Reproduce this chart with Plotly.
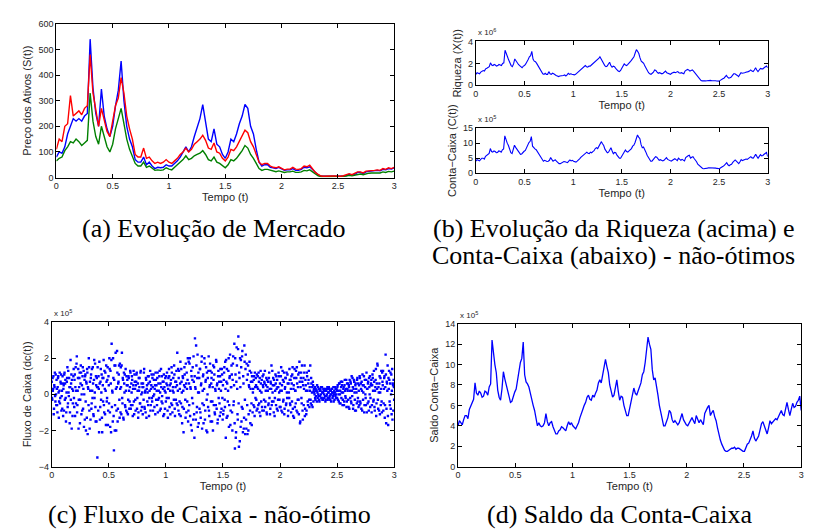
import numpy as np
import plotly.graph_objects as go

# ---------------- data ----------------
price_blue = [80, 100, 95, 120, 170, 200, 230, 220, 230, 220, 240, 250, 540, 350, 250, 200, 345, 240, 190, 160,
              200, 280, 340, 455, 300, 200, 150, 120, 70, 60, 60, 80, 50, 60, 45, 35, 40, 38, 40, 50,
              45, 45, 55, 65, 80, 100, 120, 100, 120, 160, 200, 230, 285, 220, 150, 140, 190, 130, 120, 90,
              75, 100, 150, 140, 170, 210, 240, 285, 270, 200, 170, 110, 60, 45, 50, 50, 40, 38, 35, 40,
              33, 28, 30, 30, 35, 28, 28, 32, 40, 38, 42, 30, 18, 10, 5, 4, 5, 5, 5, 5,
              4, 4, 6, 8, 12, 9, 12, 20, 20, 15, 22, 24, 25, 25, 28, 26, 32, 30, 35, 33, 38]
price_red = [110, 150, 140, 200, 210, 320, 240, 250, 260, 245, 270, 280, 480, 330, 260, 200, 270, 230, 180, 160,
             220, 280, 310, 390, 330, 240, 190, 150, 90, 80, 80, 115, 75, 80, 65, 55, 60, 55, 60, 70,
             60, 55, 65, 75, 90, 100, 115, 100, 110, 130, 140, 150, 165, 145, 115, 110, 135, 100, 95, 75,
             65, 80, 110, 105, 120, 140, 160, 185, 175, 140, 120, 90, 60, 50, 55, 55, 45, 40, 38, 42,
             35, 30, 33, 33, 40, 33, 32, 35, 45, 42, 48, 35, 20, 12, 6, 5, 6, 6, 6, 6,
             5, 5, 7, 10, 15, 11, 15, 22, 22, 18, 25, 27, 28, 28, 30, 28, 35, 32, 38, 35, 40]
price_green = [65, 75, 80, 105, 120, 140, 135, 150, 140, 125, 135, 145, 330, 220, 160, 130, 200, 160, 120, 100,
               130, 190, 230, 270, 210, 150, 110, 80, 55, 45, 45, 60, 40, 45, 35, 28, 30, 28, 30, 38,
               33, 30, 40, 50, 60, 70, 85, 70, 75, 85, 90, 95, 105, 90, 70, 65, 80, 60, 55, 45,
               38, 50, 70, 65, 75, 90, 105, 125, 115, 90, 75, 55, 35, 28, 32, 32, 28, 25, 23, 26,
               22, 20, 22, 22, 25, 20, 20, 22, 28, 26, 30, 22, 12, 7, 4, 3, 4, 4, 4, 4,
               3, 3, 5, 6, 9, 7, 9, 14, 14, 11, 15, 17, 18, 18, 19, 18, 22, 20, 24, 22, 25]

wealth = [1.0, 1.15, 1.1, 1.05, 1.2, 1.3, 1.35, 1.3, 1.5, 1.55, 1.6, 1.7, 2.05, 1.85, 1.8, 1.9, 1.85, 1.75, 1.8, 1.9,
          1.85, 1.8, 2.0, 2.05, 3.2, 2.8, 2.6, 2.3, 2.0, 1.8, 1.7, 1.95, 2.4, 2.2, 2.1, 1.9, 1.8, 1.65, 1.6, 1.75,
          1.8, 1.95, 2.1, 2.35, 2.6, 2.7, 3.1, 2.4, 2.2, 2.15, 2.0, 1.8, 1.6, 1.45, 1.2, 1.05, 1.0, 1.1, 1.0, 1.0,
          1.25, 1.05, 1.0, 1.1, 1.05, 0.95, 0.9, 0.85, 0.8, 0.85, 0.85, 0.9, 0.9, 0.95, 0.85, 0.95, 1.1, 1.0, 1.05, 1.0,
          0.95, 0.95, 1.0, 1.1, 1.2, 1.3, 1.4, 1.5, 1.65, 1.75, 1.8, 1.7, 1.65, 1.75, 1.75, 1.85, 1.95, 2.05, 2.15, 2.2,
          2.3, 2.45, 2.6, 2.4, 2.2, 1.95, 1.8, 1.7, 1.75, 1.95, 2.1, 1.8, 1.65, 1.75, 1.7, 1.55, 1.4, 1.3, 1.25, 1.35,
          1.55, 1.8, 1.95, 1.85, 1.8, 1.9, 2.0, 2.15, 2.3, 2.45, 2.6, 2.95, 3.25, 3.1, 2.9, 2.5, 2.2, 2.1, 2.0, 1.75,
          1.5, 1.3, 1.15, 1.05, 1.0, 1.1, 1.2, 1.4, 1.35, 1.2, 1.1, 1.15, 1.1, 1.05, 1.1, 1.2, 1.3, 1.15, 1.1, 1.0,
          1.0, 1.1, 1.15, 1.2, 1.15, 1.2, 1.25, 1.15, 1.1, 1.15, 1.1, 1.05, 1.3, 1.4, 1.45, 1.4, 1.3, 1.35, 1.4, 1.3,
          1.15, 1.0, 0.8, 0.65, 0.55, 0.45, 0.4, 0.38, 0.38, 0.4, 0.42, 0.45, 0.45, 0.45, 0.42, 0.43, 0.45, 0.42, 0.4, 0.38,
          0.38, 0.45, 0.55, 0.6, 0.65, 0.75, 0.9, 0.75, 0.65, 0.7, 0.75, 0.9, 1.05, 1.05, 1.0, 0.9, 0.8, 0.95, 1.15, 1.1,
          1.1, 1.15, 1.2, 1.2, 1.25, 1.3, 1.4, 1.3, 1.25, 1.4, 1.6, 1.4, 1.25, 1.4, 1.55, 1.5, 1.5, 1.6, 1.65, 1.75,
          1.6]

cash = [4.0, 4.5, 4.3, 4.1, 4.6, 5.0, 5.0, 4.7, 5.6, 6.0, 6.2, 6.6, 8.2, 7.2, 7.0, 7.4, 7.2, 6.8, 6.9, 7.4,
        7.3, 7.0, 7.8, 8.1, 12.4, 10.8, 10.0, 9.2, 7.5, 6.8, 6.5, 7.6, 9.3, 8.6, 8.0, 7.2, 6.8, 6.3, 6.4, 7.0,
        7.3, 7.6, 8.5, 9.3, 10.2, 10.6, 12.2, 9.0, 8.3, 8.1, 7.8, 7.2, 6.5, 6.0, 5.5, 4.6, 4.0, 4.3, 4.0, 3.9,
        4.0, 4.3, 5.2, 4.4, 4.0, 4.3, 4.4, 3.9, 3.5, 3.2, 3.2, 3.5, 3.6, 3.9, 3.8, 3.6, 3.5, 4.0, 4.4, 4.1,
        4.3, 4.0, 3.8, 3.7, 4.0, 4.3, 4.8, 5.3, 5.6, 6.0, 6.3, 6.8, 7.0, 6.6, 6.5, 7.0, 6.8, 7.2, 7.5, 8.2,
        8.5, 8.2, 9.0, 9.6, 10.5, 9.8, 9.2, 8.0, 7.2, 6.8, 7.0, 7.6, 8.5, 7.4, 6.5, 6.9, 6.8, 6.0, 5.5, 5.0,
        5.0, 5.6, 6.2, 7.1, 7.7, 7.2, 7.0, 7.4, 7.8, 8.2, 9.0, 9.3, 10.2, 11.8, 12.7, 12.0, 11.5, 9.5, 8.5, 8.7,
        8.0, 7.0, 6.0, 5.2, 4.5, 4.0, 4.0, 4.4, 4.8, 5.5, 5.3, 4.6, 4.3, 4.5, 4.3, 4.1, 4.3, 4.8, 5.2, 4.6,
        4.3, 4.1, 4.0, 4.3, 4.5, 4.8, 4.5, 4.2, 5.0, 4.6, 4.3, 4.6, 4.3, 4.1, 5.2, 5.6, 5.8, 6.0, 5.0, 5.3,
        5.5, 4.9, 4.5, 3.8, 3.0, 2.6, 2.2, 1.9, 1.6, 1.5, 1.5, 1.6, 1.7, 1.8, 1.8, 1.9, 1.7, 1.8, 1.8, 1.7,
        1.6, 1.5, 1.5, 1.8, 2.2, 2.3, 2.6, 3.0, 3.5, 2.8, 2.5, 2.8, 3.0, 3.6, 4.2, 4.4, 4.0, 3.6, 3.2, 3.8,
        4.5, 4.2, 4.4, 4.6, 4.7, 4.6, 5.0, 5.2, 5.5, 5.1, 5.0, 5.6, 6.3, 5.6, 5.0, 5.6, 6.2, 5.8, 5.9, 6.3,
        6.5, 6.9, 5.5]

cash_flow_a = [
    0.7, -0.3, 0.2, 1.0, -0.8, 0.4, -0.1, 1.1, -0.6, 0.3, -1.0, 0.9, 0.1, -0.4, 1.2, -0.2, 0.6, -0.9, 0.2, 1.0,
    -1.2, 0.5, 1.1, -0.3, 0.8, -1.5, 0.1, 0.9, -0.7, 1.3, -0.1, 0.4, -1.0, 1.9, 0.6, -1.9, 0.3, -0.5, 1.0, -0.2,
    0.8, -1.2, 1.5, 0.2, 2.1, -0.6, 0.9, -1.9, 0.4, 1.2, -0.3, 1.6, -1.1, 0.5, 1.0, -0.8, 1.3, 0.0, -1.4, 1.1,
    -2.0, 0.6, 1.4, -2.2, 0.3, 2.0, -0.9, 0.7, -1.4, 1.1, -0.5, 0.2, 1.5, -1.1, 0.8, -0.2, 1.7, -1.5, 0.5, 0.9,
    -3.5, 0.4, 1.0, -2.1, 0.6, -0.7, 1.4, 0.1, -1.3, 0.9, -0.4, 1.9, -1.0, 0.3, 1.2, -1.7, 0.7, -0.2, 1.5, -0.9,
    0.5, 2.0, -1.0, 1.3, -2.1, 2.8, 0.2, -1.5, 0.9, -3.1, 1.6, -0.6, 2.3, -2.0, 0.4, 1.2, -0.8, 0.7, 1.6, -1.3,
    0.3, 1.5, -1.1, 2.3, -0.5, 0.8, -1.4, 0.6, 1.1, -0.7, 0.2, 1.0, -1.0, 0.5, -0.3, 0.9, -0.8, 0.4, 1.2, -0.6,
    0.1, 0.8, -1.2, 0.5, -0.4, 1.1, 0.3, -0.9, 0.7, 1.2, -0.2, 0.6, -1.0, 0.2, 0.9, -0.5, 1.3, 0.0, -0.7, 0.4,
    0.6, -0.3, 1.4, -0.8, 0.2, 0.9, -1.3, 0.5, 0.1, -0.6, 1.0, -0.2, 0.7, -0.9, 0.3, 1.1, -0.4, 0.4, -0.1, 0.8,
    -0.7, 0.5, 1.2, -0.3, 0.2, 0.9, -1.0, 0.6, -0.2, 1.3, 0.1, -0.8, 0.4, 1.0, -0.5, 0.3, 0.7, -1.1, 0.2, 0.9,
    -0.4, 0.6, 1.2, -0.9, 0.3, -0.2, 1.0, 0.5, -1.1, 0.8, 1.5, -0.6, 0.2, 0.9, -0.3, 1.1, -1.2, 0.4, 0.7, -0.5,
    2.3, 0.2, -0.9, 1.3, -0.4, 0.6, -1.2, 1.4, 0.1, -0.7, 0.9, -2.1, 0.5, 1.1, -0.3, 1.7, -1.0, 0.3, 0.8, -1.5,
    1.8, -0.6, 2.0, 0.4, -1.7, 1.0, -0.2, 1.5, -1.4, 0.7, -2.4, 3.1, 0.3, 2.7, -1.0, 0.9, -1.8, 1.2, 0.1, -0.8,
    1.4, -1.3, 0.6, 2.1, -0.5, 1.0, -1.6, 0.3, 1.7, -0.9, 0.8, -2.0, 1.2, 0.0, -0.7, 2.1, -1.2, 0.5, 1.3, -0.4,
    0.9, -1.5, 0.4, 1.6, -0.6, 1.1, -1.1, 0.2, 1.9, -0.8, 0.6, -1.4, 1.3, 0.3, -0.5, 1.0, -1.0, 0.7, 1.4, -0.2,
    0.5, -0.9, 1.2, -0.3, 1.8, -2.4, 0.7, 1.4, -1.2, 0.2, 2.0, -0.6, 1.0, -1.7, 0.4, 1.6, -1.0, 0.8, 2.1, -0.4,
    2.8, -3.0, 1.1, -2.1, 2.6, 0.3, -1.4, 3.2, -2.9, 0.9, 2.0, -1.8, 1.5, -0.7, 2.4, -2.1, 0.6, -1.3, 1.8, -2.2,
    2.2, -1.9, 0.8, -2.2, 1.6, -1.1, 0.4, 1.3, -1.6, 0.7, -0.5, 1.0, -1.0, 0.3, 0.8, -0.7, 1.2, -0.2, 0.5, -0.9,
    0.4, 1.0, -0.6, 0.7, -1.0, 0.2, 1.3, -0.4, 0.8, -0.9, 0.5, 1.1, -0.3, 0.6, -0.7, 0.2, 0.9, -1.1, 0.4, 0.7,
    -0.5, 1.2, 0.3, -0.8, 0.6, 1.6, -0.4, 0.1, 0.9, -1.0, 0.5, -0.2, 1.1, -0.6, 0.3, 0.8, -0.9, 0.4, 1.0, -0.3,
    0.6, -0.7, 1.5, 0.2, -1.0, 0.8, -0.3, 1.2, -0.8, 0.4, 0.9, -0.5, 0.1, 1.1, -1.2, 0.6, -0.2, 0.8, -0.6, 0.3,
    1.0, -0.4, 1.5, -1.2, 0.5, 0.9, -0.7, 0.2, 1.3, -0.9, 0.6, -0.3, 1.1, -1.1, 1.8, -1.6, 0.4, 1.2, -0.5, 0.7,
    -1.4, 0.9, 0.3, 1.6, -0.8, 0.5, -1.1, 1.2, 0.2, -0.6, 0.8, -0.3, 0.4, 1.6, -0.5, 0.6, 0.1, -0.7, 0.5, 0.2,
    0.1, 0.4, -0.3, -0.1, 0.2, 0.5, -0.2, 0.0, 0.3, -0.4, -0.1, 0.2, 0.4, -0.2, 0.1, -0.3, 0.3, 0.0, 0.2, -0.1,
    -0.3, 0.2, 0.0, 0.4, -0.2, 0.1, 0.3, -0.1, -0.3, 0.2, 0.0, 0.3, -0.2, 0.1, -0.4, 0.2, 0.4, -0.1, 0.0, 0.3,
    -0.2, 0.5, 0.2, -0.4, 0.6, 0.0, -0.5, 0.4, 0.1, 0.7, -0.3, 0.3, -0.6, 0.5, 0.2, -0.2, 0.8, -0.4, 0.3, 0.6,
    -0.7, 0.4, 0.8, -0.2, 0.6, -0.5, 0.2, 0.9, -0.8, 0.3, 0.7, -0.3, 0.5, -0.9, 0.1, 0.8, -0.4, 0.6, 0.2, -0.6,
    0.9, -0.5, 0.3, 0.7, -0.9, 0.5, 0.1, 1.0, -0.6, 0.4, -0.2, 0.8, -1.0, 0.3, 0.6, -0.4, 0.9, 0.0, -0.7, 0.5,
    0.8, -0.6, 1.1, 0.2, -0.3, 0.7, -0.9, 0.4, 1.4, -0.5, 0.3, 1.6, -0.8, 0.1, 0.6, -1.1, 0.9, 0.3, -0.4, 1.2,
    0.5, -0.9, 0.3, 1.0, -0.6, 2.2, -1.6, 0.7, 0.2, -1.2, 0.9, 1.3, -0.4, 0.6, -0.8, 1.1, 0.2, -1.4, 0.5, 0.8,
    -0.3]

cash_flow_b = [
    -0.2, 0.9, 0.3, -1.1, 0.5, 1.2, -0.4, 0.0, 0.8, -0.6, 0.4, 1.0, -1.3, 0.2, -0.5, 0.7, 1.1, -0.1, -0.8, 0.6,
    0.3, -0.9, 1.2, 0.6, -0.2, -1.0, 0.7, 1.5, -0.5, 0.1, 0.9, -1.6, 0.4, -0.3, 1.1, 0.8, -1.2, 0.2, 1.4, -0.7,
    1.1, 0.4, -0.5, 1.7, -1.0, 0.2, 1.4, -0.3, 0.9, -1.6, 0.6, 1.2, 0.0, -0.9, 1.5, 0.3, -1.8, 0.8, 1.0, -0.4,
    0.7, -1.3, 1.2, 0.4, -0.6, 1.5, -1.9, 0.2, 0.9, -0.8, 1.4, -0.2, 0.6, -1.2, 1.9, 0.1, -0.7, 1.0, -1.5, 0.4,
    1.5, -0.9, 0.3, 1.8, -1.4, 0.7, -0.3, 1.1, -2.1, 0.5, 0.9, -0.6, 1.3, -1.1, 0.2, 1.6, -0.4, 0.8, -1.7, 1.0,
    -0.5, 1.4, -1.8, 0.6, 1.9, -0.7, 0.1, 2.0, -1.2, 0.8, -2.0, 1.6, 0.3, -0.9, 2.4, -1.5, 0.6, 1.1, -0.3, 1.7,
    -1.0, 0.4, 1.6, -0.2, 0.9, -1.3, 1.2, 0.1, -0.6, 1.4, -0.9, 0.5, 0.8, -1.1, 1.0, 0.2, -0.4, 1.3, -0.8, 0.6,
    1.0, -0.6, 0.3, 1.3, -1.1, 0.7, -0.3, 0.5, 1.1, -0.8, 0.2, -1.3, 0.9, 0.4, -0.5, 1.2, -0.9, 0.6, 0.1, -1.1,
    0.4, 1.2, -0.7, 0.1, -1.0, 0.8, 0.3, -0.4, 1.0, 0.6, -1.2, 0.2, 1.3, -0.6, 0.5, -0.2, 0.9, -0.9, 1.1, 0.0,
    0.3, -1.1, 0.8, 0.5, -0.6, 1.2, -0.3, 0.2, 1.0, -0.9, 0.6, 1.4, -0.4, -0.1, 0.7, -1.2, 1.1, 0.4, -0.8, 0.1,
    1.0, -0.2, 0.5, -1.3, 0.9, 1.4, -0.7, 0.2, 0.6, -0.5, 1.2, -1.0, 0.4, 0.1, 1.6, -0.8, 0.7, -0.3, 1.3, 0.5,
    -0.6, 1.4, 0.9, -1.1, 0.3, 1.8, -0.5, 0.7, -1.6, 1.0, 0.2, -0.8, 1.5, 0.4, -1.3, 0.6, 1.2, -0.4, 2.0, -0.9,
    0.6, 1.7, -1.2, 0.3, 1.3, -2.0, 0.8, -0.5, 2.1, -1.1, 1.0, 0.4, -1.4, 1.6, -0.7, 2.2, 0.1, -1.6, 0.9, 1.4,
    -1.0, 0.5, 1.8, -1.9, 0.2, 1.1, -0.6, 2.0, -1.4, 0.7, 1.5, -0.3, -2.1, 0.9, 1.3, -0.9, 0.4, 1.7, -1.5, 0.6,
    1.2, -0.4, -2.0, 0.8, 1.5, -1.0, 0.3, -0.6, 1.8, 0.5, -1.6, 1.0, -0.2, 0.7, -1.2, 1.4, 0.2, -0.8, 1.1, -1.4,
    -1.1, 0.8, 1.5, -0.7, 0.3, 1.9, -1.3, 0.6, -0.4, 1.3, -1.8, 0.9, 2.2, -0.9, 0.4, 1.1, -2.0, 1.7, -0.6, 0.5,
    -1.6, 2.0, -2.4, 0.7, 1.6, -1.1, 2.5, -0.5, 1.2, -2.6, 0.4, 1.9, -1.5, 2.1, -0.8, 1.0, -1.9, 2.7, -0.3, 1.4,
    -1.4, 1.7, -0.6, 1.1, -2.0, 0.5, 1.8, -0.9, 0.3, 1.2, -1.7, 0.7, 0.1, -0.6, 1.0, -1.2, 0.4, 0.9, -0.3, 1.1,
    -0.8, 0.3, 1.2, -0.5, 0.9, -1.2, 0.6, 0.1, -0.7, 1.0, 0.4, -0.9, 0.7, 1.3, -0.4, 0.5, -1.0, 0.8, 0.2, -0.6,
    0.9, -0.2, -1.1, 0.7, 0.3, -0.6, 1.3, 0.5, -0.4, 0.8, -1.2, 0.2, 0.6, 1.0, -0.8, 0.4, -0.3, 1.2, 0.1, -0.7,
    0.2, 1.0, -0.9, 0.5, 1.3, -0.4, 0.7, -1.1, 0.3, 0.9, -0.6, 1.2, -0.2, 0.6, -0.9, 0.1, 1.4, -0.5, 0.8, -1.0,
    0.6, 1.1, -0.8, 0.3, -1.3, 1.4, 0.2, -0.5, 0.9, 1.5, -1.0, 0.4, -0.3, 1.2, 0.7, -1.5, 0.9, -0.2, 1.6, -0.9,
    0.5, -0.6, 1.2, -1.2, 0.8, 0.2, -0.9, 1.0, -0.4, 0.6, 1.3, -0.7, 0.2, -0.3, 0.9, -0.6, 0.4, 0.7, -0.4, 0.3,
    0.0, -0.2, 0.3, 0.2, -0.4, 0.1, 0.4, -0.1, -0.3, 0.2, 0.3, 0.0, -0.2, 0.4, -0.3, 0.1, 0.2, -0.2, 0.3, -0.4,
    0.2, -0.1, 0.3, -0.3, 0.1, 0.4, -0.2, 0.2, 0.0, -0.4, 0.3, 0.1, -0.1, 0.4, 0.0, -0.3, 0.1, 0.3, -0.2, 0.2,
    0.4, -0.3, 0.0, 0.6, -0.5, 0.2, 0.7, -0.2, 0.5, -0.6, 0.1, 0.4, -0.4, 0.8, -0.1, 0.3, -0.7, 0.6, 0.2, -0.3,
    0.5, -0.8, 0.2, 0.7, -0.4, 1.0, -0.1, 0.4, -0.6, 0.8, 0.1, -0.9, 0.6, 0.3, -0.5, 0.9, -0.2, -0.7, 0.5, 1.0,
    -0.4, 0.6, -0.8, 0.2, 1.1, -0.3, 0.5, -1.0, 0.8, 0.0, -0.6, 1.2, 0.3, -0.5, 0.7, -0.9, 0.4, 1.0, -0.2, 0.6,
    -1.0, 0.5, 0.9, -0.4, 1.3, -0.7, 0.2, 0.8, -1.2, 0.6, 1.7, -0.3, 0.4, -0.9, 1.0, 0.1, -0.6, 1.3, -1.0, 0.7,
    1.3, -0.5, 0.9, -1.3, 0.4, 1.1, -0.8, 0.6, 1.6, -1.7, 0.3, 0.8, -0.6, 1.2, 0.0, -1.1, 1.4, 0.6, -0.9, 0.4]

time_ticks = [0, 0.5, 1, 1.5, 2, 2.5, 3]
time_tick_text = ["0", "0.5", "1", "1.5", "2", "2.5", "3"]

# time grids (uniform sampling of [0, 3])
t_price = np.linspace(0, 3, len(price_blue))
t_wealth = np.linspace(0, 3, len(wealth))
t_cash = np.linspace(0, 3, len(cash))
t_flow_a = np.linspace(0, 3, len(cash_flow_a))
t_flow_b = np.linspace(0.0025, 2.9975, len(cash_flow_b))

# ---------------- figure ----------------
W, H = 820, 531
SANS = "Liberation Sans, Arial, Helvetica, sans-serif"
TICK_FONT = dict(family=SANS, size=9, color="#262626")
TITLE_FONT = dict(family=SANS, size=11, color="#262626")
CAP_FONT = dict(family="Liberation Serif, Times New Roman, serif", size=26, color="black")


def xd(a, b):
    return [a / W, b / W]


def yd(top, bottom):
    return [1 - bottom / H, 1 - top / H]


fig = go.Figure()

# (a) market
for y, c in [(price_blue, "#0000ff"), (price_green, "#008000"), (price_red, "#ff0000")]:
    fig.add_trace(go.Scatter(x=t_price, y=y, mode="lines", line=dict(color=c, width=1.4),
                             xaxis="x", yaxis="y", showlegend=False))
# (b) wealth
fig.add_trace(go.Scatter(x=t_wealth, y=wealth, mode="lines", line=dict(color="#0000ff", width=1.1),
                         xaxis="x2", yaxis="y2", showlegend=False))
# (b) cash account
fig.add_trace(go.Scatter(x=t_cash, y=cash, mode="lines", line=dict(color="#0000ff", width=1.1),
                         xaxis="x3", yaxis="y3", showlegend=False))
# (c) cash flow
for tt, yy in [(t_flow_a, cash_flow_a), (t_flow_b, cash_flow_b)]:
    fig.add_trace(go.Scatter(x=tt, y=yy, mode="markers",
                             marker=dict(color="#0000ff", size=2.4, symbol="square", line=dict(width=0)),
                             xaxis="x4", yaxis="y4", showlegend=False))
# (d) cash balance
fig.add_trace(go.Scatter(x=t_cash, y=cash, mode="lines", line=dict(color="#0000ff", width=1.3),
                         xaxis="x5", yaxis="y5", showlegend=False))

common_ax = dict(showline=True, linecolor="black", linewidth=1, mirror="ticks", ticks="inside",
                 ticklen=4, tickcolor="black", showgrid=False, zeroline=False, tickfont=TICK_FONT)


def xax(dom, anchor):
    return dict(common_ax, domain=dom, anchor=anchor, range=[0, 3], tickvals=time_ticks,
                ticktext=time_tick_text, title=dict(text="Tempo (t)", font=TITLE_FONT, standoff=2))


def yax(dom, anchor, rng, dtick, title):
    return dict(common_ax, domain=dom, anchor=anchor, range=rng, dtick=dtick, tick0=0,
                title=dict(text=title, font=TITLE_FONT, standoff=4))


fig.update_layout(
    width=W, height=H, margin=dict(l=0, r=0, t=0, b=0),
    paper_bgcolor="white", plot_bgcolor="white", showlegend=False,
    xaxis=xax(xd(45.7, 386), "y"),
    yaxis=yax(yd(11, 167.7), "x", [0, 600], 100, "Preço dos Ativos (S(t))"),
    xaxis2=xax(xd(468.3, 762.3), "y2"),
    yaxis2=yax(yd(29, 73.7), "x2", [0, 4], 2, "Riqueza (X(t))"),
    xaxis3=xax(xd(468.3, 762.3), "y3"),
    yaxis3=yax(yd(117.3, 163.3), "x3", [0, 15], 5, "Conta−Caixa (C(t))"),
    xaxis4=xax(xd(41, 386), "y4"),
    yaxis4=yax(yd(315, 462.3), "x4", [-4, 4], 2, "Fluxo de Caixa (dc(t))"),
    xaxis5=xax(xd(450.3, 796), "y5"),
    yaxis5=yax(yd(316.7, 462.3), "x5", [0, 14], 2, "Saldo Conta−Caixa"),
)

mult_font = dict(family=SANS, size=8, color="#262626")
for xr, ytop, txt in [("x2", 29, "x 10<sup>6</sup>"), ("x3", 117.3, "x 10<sup>5</sup>"),
                      ("x4", 315, "x 10<sup>5</sup>"), ("x5", 316.7, "x 10<sup>5</sup>")]:
    fig.add_annotation(xref=xr + " domain", yref="paper", x=0, y=1 - (ytop - 2) / H,
                       text=txt, showarrow=False, xanchor="left", yanchor="bottom", font=mult_font)

captions = [
    (204, 220, "(a) Evolução de Mercado"),
    (607, 220, "(b) Evolução da Riqueza (acima) e"),
    (607, 247, "Conta-Caixa (abaixo) - não-ótimos"),
    (200, 511, "(c) Fluxo de Caixa - não-ótimo"),
    (613, 511, "(d) Saldo da Conta-Caixa"),
]
for cx, cy, txt in captions:
    fig.add_annotation(xref="paper", yref="paper", x=cx / W, y=1 - cy / H, text=txt,
                       showarrow=False, xanchor="center", yanchor="middle", font=CAP_FONT)

fig.write_html("out.html")
